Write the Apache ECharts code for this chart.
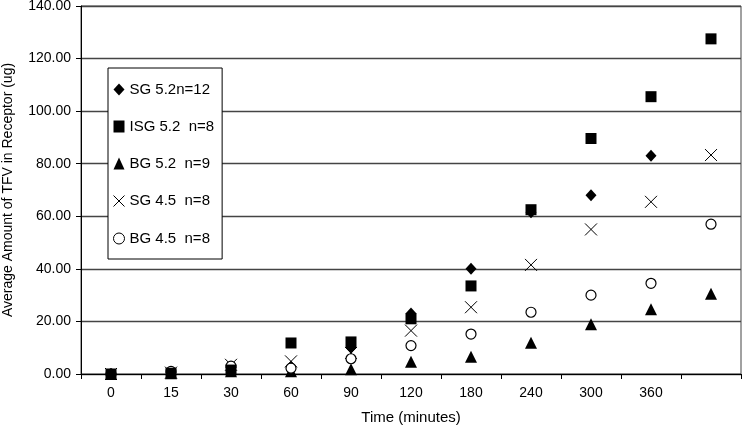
<!DOCTYPE html>
<html>
<head>
<meta charset="utf-8">
<script src="https://cdn.jsdelivr.net/npm/echarts@6/dist/echarts.min.js"></script>
<style>html,body{margin:0;padding:0;background:#fff;}#c{width:742px;height:427px;}</style>
</head>
<body>
<div id="c"></div>
<script>
var categories = ['0','15','30','60','90','120','180','240','300','360',''];
var yTicks = [0,20,40,60,80,100,120,140];
var SG52  = [0, 0.5, 2.5, 2.8, 10.0, 23.0, 40.0, 61.5, 68.0, 83.0, null];
var ISG52 = [0, 0.3, 1.5, 11.8, 12.2, 21.0, 33.5, 62.5, 89.6, 105.5, 127.5];
var BG52  = [0, 0.3, 1.0, 1.0, 1.8, 4.7, 6.6, 11.9, 18.9, 24.6, 30.5];
var SG45  = [0, 0.5, 3.5, 4.8, 8.0, 16.5, 25.4, 41.5, 55.0, 65.5, 83.3];
var BG45  = [0, 1.0, 3.0, 2.2, 5.8, 10.8, 15.2, 23.5, 30.0, 34.5, 57.0];
var names = ['SG 5.2n=12','ISG 5.2  n=8','BG 5.2  n=9','SG 4.5  n=8','BG 4.5  n=8'];

var font = 'Liberation Sans, Arial, sans-serif';
var xPath = 'path://M0,0L10,10M10,0L0,10';
var chart = echarts.init(document.getElementById('c'), null, {renderer:'canvas'});
chart.setOption({
  animation:false,
  backgroundColor:'#fff',
  grid:{left:81,right:1,top:6,bottom:53,show:true,borderColor:'#444',borderWidth:1,
        containLabel:false,outerBoundsMode:'none'},
  legend:{
    orient:'vertical', left:108, top:68,
    width:111,
    padding:[14,8,13,3],
    itemWidth:11, itemHeight:12, itemGap:22,
    borderColor:'#000', borderWidth:1, backgroundColor:'#fff',
    textStyle:{fontFamily:font,fontSize:15,color:'#000'},
    data:[
      {name:names[0]},
      {name:names[1]},
      {name:names[2]},
      {name:names[3], itemStyle:{color:'none',borderColor:'#000',borderWidth:1,opacity:1}},
      {name:names[4], itemStyle:{color:'#fff',borderColor:'#000',borderWidth:1,opacity:1}}
    ]
  },
  xAxis:{
    type:'category', data:categories, boundaryGap:true,
    name:'Time (minutes)', nameLocation:'middle', nameGap:36,
    nameTextStyle:{fontFamily:font,fontSize:15,color:'#000'},
    axisLine:{lineStyle:{color:'#000',width:1}},
    axisTick:{show:true,length:5,lineStyle:{color:'#000'}},
    axisLabel:{fontFamily:font,fontSize:14,color:'#000',margin:12,interval:0},
    splitLine:{show:false}
  },
  yAxis:{
    type:'value', min:0, max:140, interval:20,
    name:'Average Amount of TFV in Receptor (ug)', nameLocation:'middle', nameGap:66,
    nameTextStyle:{fontFamily:font,fontSize:14,color:'#000'},
    axisLine:{show:true,lineStyle:{color:'#000',width:1}},
    axisTick:{show:true,length:5,lineStyle:{color:'#000'}},
    axisLabel:{fontFamily:font,fontSize:14,color:'#000',margin:10,
      formatter:function(v){return v.toFixed(2);}},
    splitLine:{show:true,lineStyle:{color:'#444',width:1.3}}
  },
  series:[
    {name:names[0],type:'scatter',z:2,data:SG52,symbol:'diamond',symbolSize:[11,12],itemStyle:{color:'#000',opacity:1}},
    {name:names[1],type:'scatter',z:4,data:ISG52,symbol:'rect',symbolSize:11,itemStyle:{color:'#000',opacity:1}},
    {name:names[2],type:'scatter',z:2,data:BG52,symbol:'triangle',symbolSize:12,itemStyle:{color:'#000',opacity:1}},
    {name:names[3],type:'scatter',z:2,data:SG45,symbol:xPath,symbolSize:12,itemStyle:{color:'none',borderColor:'#000',borderWidth:1,opacity:1}},
    {name:names[4],type:'scatter',z:3,data:BG45,symbol:'circle',symbolSize:10,itemStyle:{color:'#fff',borderColor:'#000',borderWidth:1.2,opacity:1}}
  ]
});
</script>
</body>
</html>
